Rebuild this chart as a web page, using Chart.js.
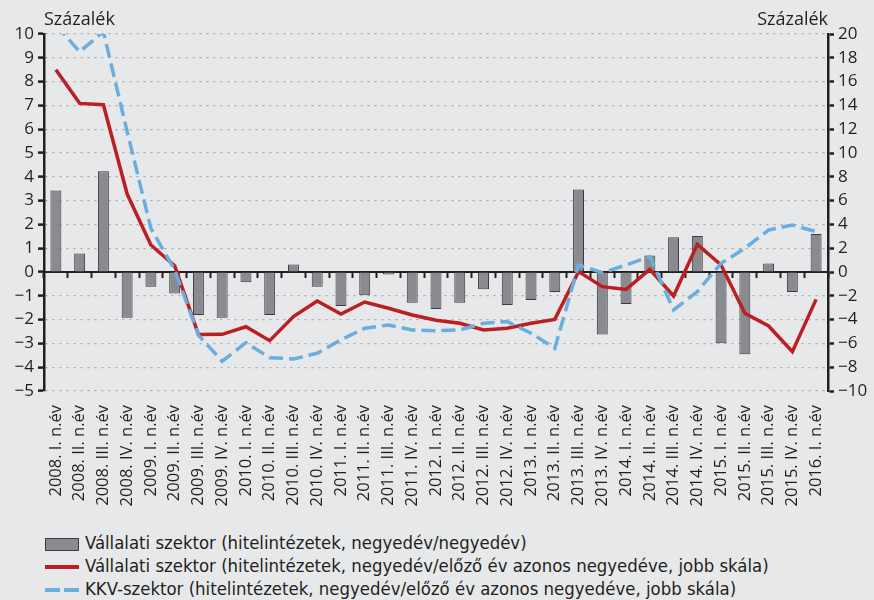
<!DOCTYPE html>
<html>
<head>
<meta charset="utf-8">
<script src="https://cdn.jsdelivr.net/npm/chart.js"></script>
<style>
  html, body { margin: 0; padding: 0; background: #e7e8ea; }
  #wrap { position: relative; width: 874px; height: 600px; }
  #chartBox { position: absolute; left: 0; top: 0; width: 874px; height: 530px; }
  .leg { position: absolute; left: 45px; font-family: "Liberation Sans Narrow", "DejaVu Sans Condensed", sans-serif;
         font-size: 18.4px; color: #231f20; white-space: nowrap; }
  .leg span.sw { position: absolute; left: 0; }
  .leg span.tx { position: absolute; left: 40px; top: -12px; }
</style>
</head>
<body>
<div id="wrap">
  <div id="chartBox"><canvas id="c"></canvas></div>
  <div class="leg" style="top:544px">
    <span class="sw" style="top:-6px;width:32px;height:11px;background:#8a8b90;border:1px solid #3b3b3b;"></span>
    <span class="tx">Vállalati szektor (hitelintézetek, negyedév/negyedév)</span>
  </div>
  <div class="leg" style="top:567px">
    <span class="sw" style="top:-2px;width:34px;height:4px;background:#bb1e23;"></span>
    <span class="tx">Vállalati szektor (hitelintézetek, negyedév/előző év azonos negyedéve, jobb skála)</span>
  </div>
  <div class="leg" style="top:590px">
    <span class="sw" style="top:-2px;width:15px;height:4px;background:#6aaedf;"></span>
    <span class="sw" style="left:19px;top:-2px;width:15px;height:4px;background:#6aaedf;"></span>
    <span class="tx">KKV-szektor (hitelintézetek, negyedév/előző év azonos negyedéve, jobb skála)</span>
  </div>
</div>
<script>
const categories = [
  "2008. I. n.év", "2008. II. n.év", "2008. III. n.év", "2008. IV. n.év",
  "2009. I. n.év", "2009. II. n.év", "2009. III. n.év", "2009. IV. n.év",
  "2010. I. n.év", "2010. II. n.év", "2010. III. n.év", "2010. IV. n.év",
  "2011. I. n.év", "2011. II. n.év", "2011. III. n.év", "2011. IV. n.év",
  "2012. I. n.év", "2012. II. n.év", "2012. III. n.év", "2012. IV. n.év",
  "2013. I. n.év", "2013. II. n.év", "2013. III. n.év", "2013. IV. n.év",
  "2014. I. n.év", "2014. II. n.év", "2014. III. n.év", "2014. IV. n.év",
  "2015. I. n.év", "2015. II. n.év", "2015. III. n.év", "2015. IV. n.év",
  "2016. I. n.év"
];

// negyedév/negyedév, bal skála
const corporateQoQ = [
  3.42, 0.78, 4.23, -1.92, -0.62, -0.9, -1.81, -1.92,
  -0.43, -1.81, 0.32, -0.62, -1.43, -0.98, -0.1, -1.29,
  -1.55, -1.29, -0.73, -1.39, -1.18, -0.84, 3.47, -2.63,
  -1.34, 0.69, 1.46, 1.51, -2.99, -3.46, 0.36, -0.84,
  1.6
];

// előző év azonos negyedéve, jobb skála
const corporateYoY = [
  17.0, 14.17, 14.06, 6.55, 2.27, 0.53, -5.25, -5.24,
  -4.6, -5.77, -3.75, -2.44, -3.53, -2.52, -3.05, -3.61,
  -4.05, -4.31, -4.87, -4.73, -4.31, -3.98, 0.03, -1.23,
  -1.46, 0.22, -2.02, 2.32, 0.59, -3.47, -4.54, -6.69,
  -2.3
];

const smeYoY = [
  20.8, 18.5, 20.2, 11.8, 3.67, 0.17, -5.3, -7.5,
  -5.94, -7.2, -7.3, -6.83, -5.7, -4.73, -4.45, -4.87,
  -4.93, -4.87, -4.31, -4.17, -5.15, -6.41, 0.59, -0.06,
  0.59, 1.29, -3.19, -1.65, 0.73, 1.99, 3.53, 3.95,
  3.39
];

const leftTicks = { min: -5, max: 10, step: 1 };
const rightTicks = { min: -10, max: 20, step: 2 };

const tickFont = { family: "'Open Sans', sans-serif", size: 17 };
const minus = v => String(v).replace("-", "\u2212");

// "Százalék" feliratok a tengelyek fölött
const unitLabels = {
  id: "unitLabels",
  afterDraw(chart) {
    const { ctx, chartArea } = chart;
    ctx.save();
    ctx.fillStyle = "#231f20";
    ctx.font = "18px 'Open Sans', sans-serif";
    ctx.textBaseline = "alphabetic";
    ctx.textAlign = "left";
    ctx.fillText("Százalék", chartArea.left, 25);
    ctx.textAlign = "right";
    ctx.fillText("Százalék", chartArea.right, 25);
    ctx.restore();
  }
};

new Chart(document.getElementById("c"), {
  data: {
    labels: categories,
    datasets: [
      {
        type: "line",
        label: "KKV-szektor (hitelintézetek, negyedév/előző év azonos negyedéve, jobb skála)",
        data: smeYoY,
        yAxisID: "y2",
        borderColor: "#6aaedf",
        borderWidth: 3.5,
        borderDash: [14, 6],
        pointRadius: 0,
        tension: 0,
        clip: 0,
        order: 0
      },
      {
        type: "line",
        label: "Vállalati szektor (hitelintézetek, negyedév/előző év azonos negyedéve, jobb skála)",
        data: corporateYoY,
        yAxisID: "y2",
        borderColor: "#bb1e23",
        borderWidth: 3.5,
        pointRadius: 0,
        tension: 0,
        clip: 0,
        order: 1
      },
      {
        type: "bar",
        label: "Vállalati szektor (hitelintézetek, negyedév/negyedév)",
        data: corporateQoQ,
        yAxisID: "y",
        backgroundColor: "#8a8b90",
        borderColor: "#3b3b3b",
        borderWidth: 1,
        barPercentage: 0.46,
        categoryPercentage: 1,
        order: 2
      }
    ]
  },
  options: {
    responsive: true,
    maintainAspectRatio: false,
    animation: false,
    layout: { padding: { top: 34, left: 0, right: 0, bottom: 0 } },
    plugins: {
      legend: { display: false },
      tooltip: { enabled: false }
    },
    scales: {
      x: {
        position: "bottom",
        offset: true,
        grid: { display: false },
        border: { display: false },
        ticks: {
          color: "#231f20",
          font: { family: "'Open Sans', sans-serif", size: 16.5 },
          minRotation: 90,
          maxRotation: 90,
          autoSkip: false,
          padding: 6
        },
        afterFit: s => { s.height = 139; }
      },
      x2: {
        type: "category",
        labels: categories,
        position: { y: 0 },
        offset: true,
        grid: {
          display: true,
          offset: true,
          drawOnChartArea: false,
          drawTicks: true,
          tickLength: 5,
          tickColor: "#231f20",
          tickWidth: 2
        },
        border: { display: true, color: "#231f20", width: 2 },
        ticks: { display: false }
      },
      y: {
        position: "left",
        min: leftTicks.min,
        max: leftTicks.max,
        ticks: {
          stepSize: leftTicks.step,
          color: "#231f20",
          font: tickFont,
          padding: 4,
          callback: v => minus(v)
        },
        grid: {
          color: c => (c.tick && c.tick.value === 0 ? "rgba(0,0,0,0)" : "#a3a6aa"),
          lineWidth: 1.2,
          tickColor: "#231f20",
          tickWidth: 2.5,
          tickLength: 6
        },
        border: { display: true, color: "#231f20", width: 2.5, dash: [2, 5] },
        afterFit: s => { s.width = 44; }
      },
      y2: {
        position: "right",
        min: rightTicks.min,
        max: rightTicks.max,
        ticks: {
          stepSize: rightTicks.step,
          color: "#231f20",
          font: tickFont,
          padding: 4,
          callback: v => minus(v)
        },
        grid: {
          drawOnChartArea: false,
          tickColor: "#231f20",
          tickWidth: 2.5,
          tickLength: 6
        },
        border: { display: true, color: "#231f20", width: 2.5 },
        afterFit: s => { s.width = 46; }
      }
    }
  },
  plugins: [unitLabels]
});
</script>
</body>
</html>
